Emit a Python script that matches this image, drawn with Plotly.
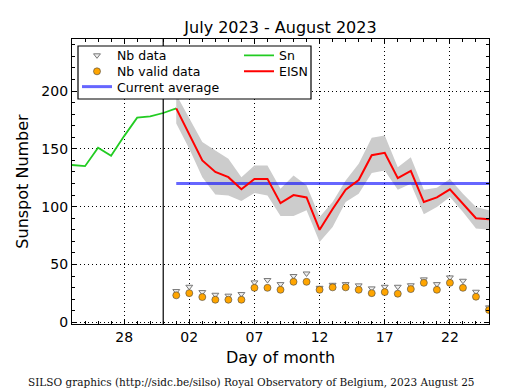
import plotly.graph_objects as go

# ---------------- data ----------------
sn_dates = ["2023-07-24", "2023-07-25", "2023-07-26", "2023-07-27", "2023-07-28",
            "2023-07-29", "2023-07-30", "2023-07-31", "2023-08-01"]
sn_values = [136, 135, 151, 144, 161, 177, 178, 181, 185]

aug_dates = ["2023-08-%02d" % d for d in range(1, 26)]
eisn_values = [185, 162, 140, 130, 125.5, 115, 124, 124, 103, 110, 108, 80, 98,
               114.6, 123, 144.5, 146.5, 124.7, 131, 104, 108, 115, 102.6, 90, 89]
eisn_upper = [197, 176, 156, 148.5, 141.4, 125.5, 135.6, 135.6, 115.5, 127, 118.4, 91, 104,
              122.7, 137, 159.5, 161.5, 134, 142.8, 114.6, 116.4, 124, 111.2, 99.7, 96.8]
eisn_lower = [172, 150, 125.5, 110.6, 109.7, 104.8, 111.7, 109.7, 91.9, 91.9, 96.8, 69.5, 82.4,
              104, 111.2, 129, 131.3, 114.6, 119.8, 93.4, 99.7, 108.3, 95.4, 81, 80]
nb_data = [27, 30.7, 26.1, 23.8, 23, 24.4, 34.5, 36.5, 33, 40, 42.2, 29.8, 32.4,
           33, 31.9, 29.3, 30.7, 30.7, 32, 37.1, 33, 38.8, 35.9, 26.4, 12.9]
nb_valid = [23.3, 25.2, 21.8, 19.5, 19.5, 19.5, 29.8, 29.8, 28.1, 35, 35, 28.1, 30.2,
            30.2, 28.1, 25.2, 26.1, 24.7, 28.7, 34.1, 28.1, 34.1, 29.8, 22.1, 10.6]
current_average = 120
avg_dates = ["2023-08-01", "2023-08-25"]

x_tickvals = ["2023-07-28", "2023-08-02", "2023-08-07", "2023-08-12", "2023-08-17", "2023-08-22"]
x_ticktext = ["28", "02", "07", "12", "17", "22"]
x_range = ["2023-07-24", "2023-08-25"]
y_range = [-1.5, 245]
separator_date = "2023-07-31"

# ---------------- geometry helpers ----------------
L, R, T, B = 72, 26, 39, 66
W, H = 515, 390
pw, ph = W - L - R, H - T - B

def px_x(p):
    return (p - L) / pw

def px_y(p):
    return 1 - (p - T) / ph

# ---------------- figure ----------------
fig = go.Figure()

# uncertainty band
fig.add_trace(go.Scatter(x=aug_dates, y=eisn_lower, mode="lines",
                         line=dict(width=0, color="#cccccc"), showlegend=False,
                         hoverinfo="skip"))
fig.add_trace(go.Scatter(x=aug_dates, y=eisn_upper, mode="lines", fill="tonexty",
                         fillcolor="#cccccc", line=dict(width=0, color="#cccccc"),
                         showlegend=False, hoverinfo="skip"))

fig.add_trace(go.Scatter(x=aug_dates, y=nb_data, mode="markers", name="Nb data",
                         marker=dict(symbol="triangle-down", size=6, color="#eeeeee",
                                     line=dict(color="#777777", width=1)),
                         legend="legend"))
fig.add_trace(go.Scatter(x=aug_dates, y=nb_valid, mode="markers", name="Nb valid data",
                         marker=dict(symbol="circle", size=7, color="#ffa500",
                                     line=dict(color="#444444", width=0.6)),
                         legend="legend2"))
fig.add_trace(go.Scatter(x=avg_dates, y=[current_average] * len(avg_dates), mode="lines",
                         name="Current average",
                         line=dict(color="rgba(0,0,255,0.6)", width=3),
                         legend="legend3"))
fig.add_trace(go.Scatter(x=sn_dates, y=sn_values, mode="lines", name="Sn",
                         line=dict(color="#22cc22", width=1.8), legend="legend4"))
fig.add_trace(go.Scatter(x=aug_dates, y=eisn_values, mode="lines", name="EISN",
                         line=dict(color="#ff0000", width=2), legend="legend5"))

# vertical separator
fig.add_shape(type="line", xref="x", yref="paper", x0=separator_date, x1=separator_date,
              y0=0, y1=1, line=dict(color="black", width=1.2))
# legend box
fig.add_shape(type="rect", xref="paper", yref="paper",
              x0=px_x(78), x1=px_x(311), y0=px_y(99), y1=px_y(46),
              fillcolor="white", line=dict(color="black", width=1.2), layer="above")

fig.add_annotation(text="SILSO graphics (http://sidc.be/silso) Royal Observatory of Belgium, 2023 August 25",
                   xref="paper", yref="paper", x=px_x(251), y=px_y(382),
                   xanchor="center", yanchor="middle", showarrow=False,
                   font=dict(family="DejaVu Serif", size=10.5, color="#111111"))

axis_common = dict(showline=True, linecolor="black", linewidth=1.3, mirror="ticks",
                   ticks="inside", ticklen=5, tickcolor="black",
                   showgrid=True, gridcolor="black", gridwidth=1, griddash="1px,3px",
                   zeroline=False,
                   tickfont=dict(family="DejaVu Sans", size=14, color="black"))

fig.update_xaxes(type="date", range=x_range, tickvals=x_tickvals, ticktext=x_ticktext,
                 title=dict(text="Day of month", font=dict(family="DejaVu Sans", size=16, color="black"),
                            standoff=7),
                 minor=dict(ticks="inside", ticklen=3, dtick=86400000, tick0="2023-07-24",
                            tickcolor="black", showgrid=False),
                 **axis_common)
fig.update_yaxes(range=y_range, tickvals=[0, 50, 100, 150, 200],
                 title=dict(text="Sunspot Number", font=dict(family="DejaVu Sans", size=16, color="black"),
                            standoff=8),
                 minor=dict(ticks="inside", ticklen=3, dtick=10, tick0=0,
                            tickcolor="black", showgrid=False),
                 **axis_common)

legend_font = dict(family="DejaVu Sans", size=12.5, color="black")

def legend_at(xp, yc):
    return dict(x=px_x(xp), y=px_y(yc - 15), xanchor="left", yanchor="top",
                bgcolor="rgba(0,0,0,0)", borderwidth=0, font=legend_font,
                traceorder="normal", itemwidth=30)

fig.update_layout(
    width=W, height=H,
    margin=dict(l=L, r=R, t=T, b=B, autoexpand=False),
    paper_bgcolor="white", plot_bgcolor="white",
    title=dict(text="July 2023 - August 2023", x=px_x(280.5), xref="paper", xanchor="center",
               y=1 - 27 / H, yanchor="middle",
               font=dict(family="DejaVu Sans", size=16, color="black")),
    legend=legend_at(77, 55.7),
    legend2=legend_at(77, 71.7),
    legend3=legend_at(77, 87),
    legend4=legend_at(239, 55.7),
    legend5=legend_at(239, 71.7),
    showlegend=True,
)

fig.write_html("out.html", config={"displayModeBar": False},
               post_script="document.body.style.margin='0px';")
